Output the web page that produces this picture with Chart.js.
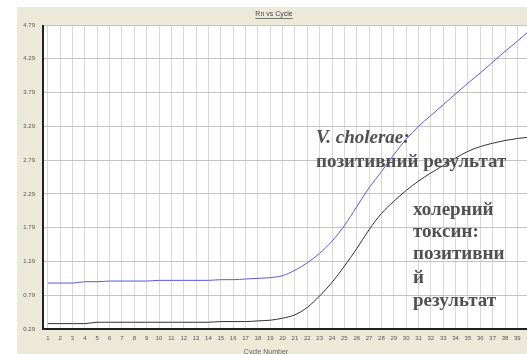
<!DOCTYPE html>
<html lang="uk">
<head>
  <meta charset="UTF-8" />
  <title>Rn vs Cycle</title>
  <style>
    * { box-sizing: border-box; }
    html, body { margin: 0; padding: 0; background: #fff; }
    #wrap { width: 527px; height: 354px; position: relative; }
  </style>
</head>
<body>
  <div id="wrap"><canvas id="rnChart" width="527" height="354"></canvas></div>

  <script src="https://cdn.jsdelivr.net/npm/chart.js"></script>
  <script>
    // Цикли та значення Rn
    const cycles = [1,2,3,4,5,6,7,8,9,10,11,12,13,14,15,16,17,18,19,20,
                    21,22,23,24,25,26,27,28,29,30,31,32,33,34,35,36,37,38,39,40];
    const rnCholerae = [0.97,0.97,0.97,0.99,0.99,1.00,1.00,1.00,1.00,1.01,
                        1.01,1.01,1.01,1.01,1.02,1.02,1.03,1.04,1.05,1.08,
                        1.16,1.27,1.41,1.59,1.82,2.10,2.38,2.62,2.87,3.10,
                        3.29,3.45,3.61,3.77,3.93,4.08,4.24,4.40,4.55,4.71];
    const rnToxin = [0.37,0.37,0.37,0.37,0.39,0.39,0.39,0.39,0.39,0.39,
                     0.39,0.39,0.39,0.39,0.40,0.40,0.40,0.41,0.42,0.45,
                     0.50,0.61,0.78,0.98,1.22,1.48,1.76,2.00,2.18,2.34,
                     2.48,2.60,2.71,2.82,2.92,2.99,3.04,3.08,3.11,3.13];
    const yTicks = [0.29,0.79,1.29,1.79,2.29,2.79,3.29,3.79,4.29,4.79];
    const xTicks = cycles;

    const BEIGE = '#ece9d8';

    // фон: біла рамка, бежева панель, білий графік, заголовки
    const panelPlugin = {
      id: 'panel',
      beforeDraw(chart) {
        const { ctx, chartArea: a, width, height } = chart;
        ctx.save();
        ctx.fillStyle = '#fff';
        ctx.fillRect(0, 0, width, height);
        ctx.fillStyle = BEIGE;
        ctx.fillRect(17, 7, width - 17, height - 7);
        ctx.fillStyle = '#fff';
        ctx.fillRect(a.left, a.top, a.right - a.left, a.bottom - a.top);

        ctx.fillStyle = '#444';
        ctx.font = '7px "Liberation Sans", sans-serif';
        ctx.textAlign = 'center';
        ctx.textBaseline = 'middle';
        ctx.fillText('Rn vs Cycle', 274, 14);
        const w = ctx.measureText('Rn vs Cycle').width;
        ctx.fillRect(274 - w / 2, 18, w, 0.7);
        ctx.fillStyle = '#666';
        ctx.fillText('Cycle Number', 266, 352);
        ctx.restore();
      },
      afterDraw(chart) {
        const { ctx, chartArea: a } = chart;
        ctx.save();
        ctx.strokeStyle = '#222';
        ctx.lineWidth = 2;
        ctx.beginPath();
        ctx.moveTo(a.left, a.top);
        ctx.lineTo(a.left, a.bottom);
        ctx.lineTo(a.right, a.bottom);
        ctx.stroke();

        ctx.fillStyle = '#505050';
        ctx.textAlign = 'left';
        ctx.textBaseline = 'alphabetic';
        ctx.font = 'italic bold 19px "Liberation Serif", serif';
        ctx.fillText('V. cholerae:', 316, 143);
        ctx.font = 'bold 19px "Liberation Serif", serif';
        ctx.fillText('позитивний результат', 316, 167);
        const lines = ['холерний', 'токсин:', 'позитивни', 'й', 'результат'];
        const ys = [215, 237, 259, 283, 306];
        lines.forEach((t, i) => ctx.fillText(t, 413, ys[i]));
        ctx.restore();
      }
    };

    const ctx = document.getElementById('rnChart').getContext('2d');
    new Chart(ctx, {
      type: 'line',
      data: {
        datasets: [{
          label: 'V. cholerae',
          data: cycles.map((c, i) => ({ x: c, y: rnCholerae[i] })),
          borderColor: '#5a5ae0',
          borderWidth: 1,
          pointRadius: 0,
          cubicInterpolationMode: 'monotone'
        }, {
          label: 'toxin',
          data: cycles.map((c, i) => ({ x: c, y: rnToxin[i] })),
          borderColor: '#333',
          borderWidth: 1,
          pointRadius: 0,
          cubicInterpolationMode: 'monotone'
        }]
      },
      options: {
        responsive: false,
        animation: false,
        events: [],
        layout: { padding: { top: 25, left: 0, right: 0, bottom: 0 } },
        plugins: {
          legend: { display: false },
          title: { display: false },
          tooltip: { enabled: false }
        },
        scales: {
          x: {
            type: 'linear',
            min: 0.61,
            max: 39.78,
            afterBuildTicks: s => { s.ticks = xTicks.map(v => ({ value: v })); },
            afterFit: s => { s.height = 25; s.paddingLeft = 0; s.paddingRight = 0; },
            grid: { color: '#d8d8d8', drawTicks: false },
            border: { display: false },
            ticks: {
              autoSkip: false,
              maxRotation: 0,
              padding: 6,
              color: '#555',
              font: { size: 6, family: '"Liberation Sans", sans-serif' }
            }
          },
          y: {
            min: 0.29,
            max: 4.79,
            afterBuildTicks: s => { s.ticks = yTicks.map(v => ({ value: v })); },
            afterFit: s => { s.width = 43; s.paddingTop = 0; s.paddingBottom = 0; },
            grid: { color: '#c4c4c4', drawTicks: false },
            border: { display: false },
            ticks: {
              padding: 8,
              color: '#555',
              font: { size: 6, family: '"Liberation Sans", sans-serif' },
              callback: v => v.toFixed(2)
            }
          }
        }
      },
      plugins: [panelPlugin]
    });
  </script>
</body>
</html>
